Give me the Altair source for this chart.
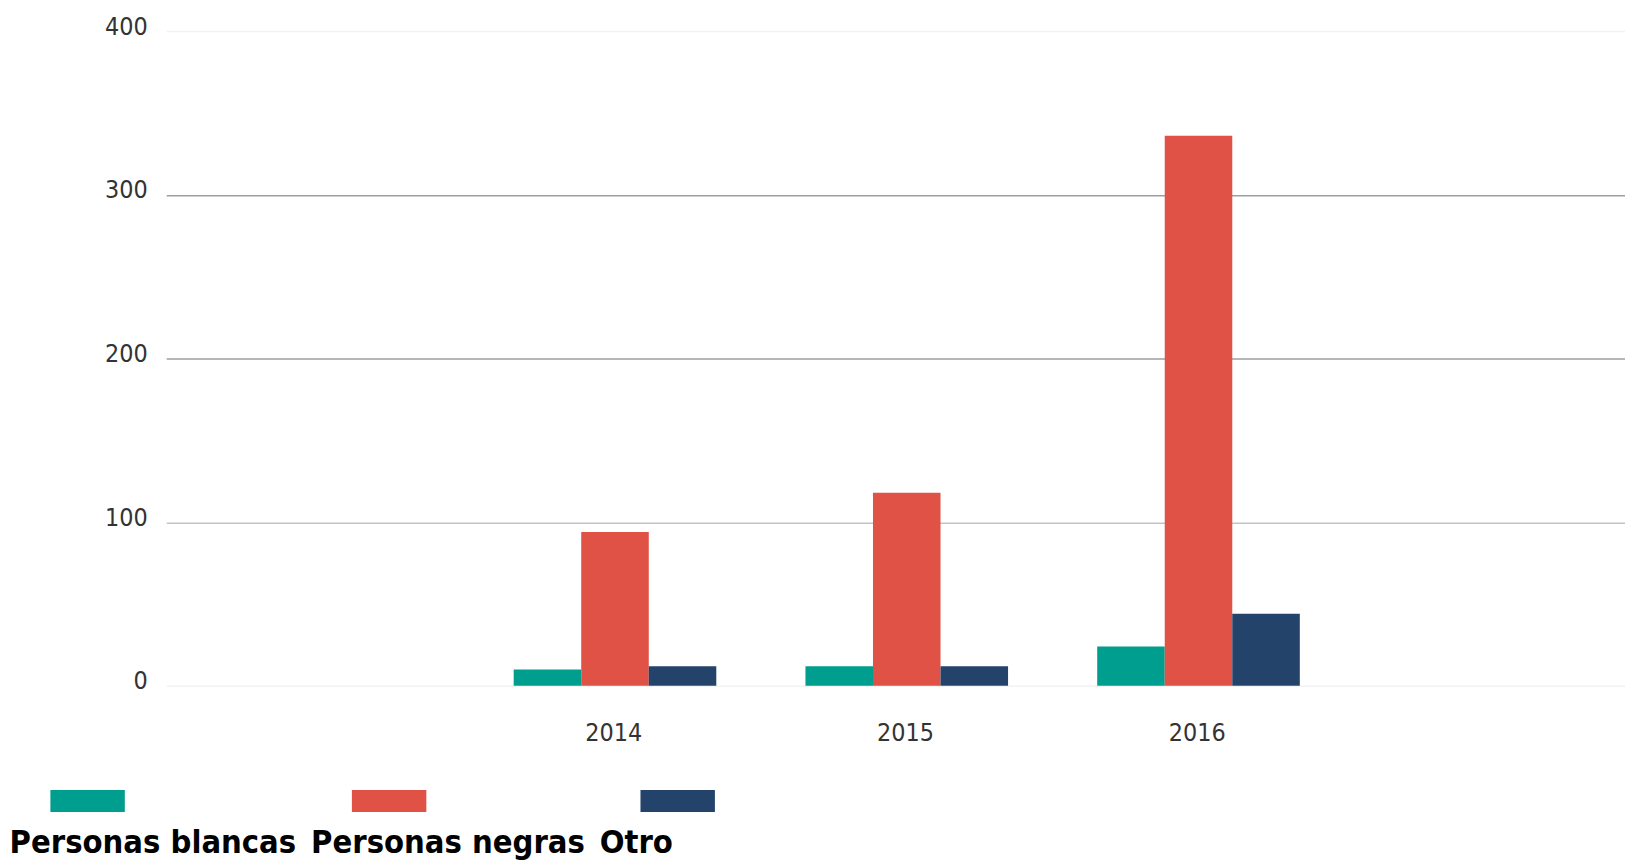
import altair as alt
import pandas as pd

years = ["2014", "2015", "2016"]
series = ["Personas blancas", "Personas negras", "Otro"]
blancas = [10, 12, 24]
negras = [94, 118, 336]
otro = [12, 12, 44]
colors = ["#009E8E", "#E05146", "#24436B"]
y_ticks = [0, 100, 200, 300, 400]

rows = []
for i, yr in enumerate(years):
    for s, vals in zip(series, [blancas, negras, otro]):
        rows.append({"year": yr, "serie": s, "value": vals[i]})
df = pd.DataFrame(rows)

FONT = "Liberation Sans Narrow, Arial Narrow, DejaVu Sans Condensed, sans-serif"

chart = alt.Chart(df).mark_bar().encode(
    x=alt.X("year:N", sort=years,
            scale=alt.Scale(paddingInner=0, paddingOuter=1),
            axis=alt.Axis(title=None, labelAngle=0, labelFontSize=25, labelFont=FONT,
                          labelColor="#333333", labelPadding=35, ticks=False, domain=False,
                          grid=False, labelOffset=10)),
    xOffset=alt.XOffset("serie:N", sort=series,
                        scale=alt.Scale(paddingInner=0, paddingOuter=0.66, align=0.625)),
    y=alt.Y("value:Q", scale=alt.Scale(domain=[0, 400], nice=False),
            axis=alt.Axis(values=y_ticks, title=None, labelFontSize=25, labelFont=FONT,
                          labelColor="#333333", labelPadding=19, ticks=False, domain=False,
                          minExtent=159, labelOffset={"expr": "-5"}, gridWidth=1.5,
                          gridColor={"condition": [
                              {"test": "datum.value === 200 || datum.value === 300", "value": "#9e9e9e"},
                              {"test": "datum.value === 100", "value": "#c4c4c4"}],
                              "value": "#f2f2f2"})),
    color=alt.Color("serie:N", sort=series,
                    scale=alt.Scale(domain=series, range=colors),
                    legend=alt.Legend(title=None, orient="none", legendX=-158, legendY=759,
                                      direction="horizontal",
                                      symbolType="M-1.7,-0.836H1.7V0.164H-1.7Z", symbolSize=1936,
                                      symbolStrokeWidth=0, symbolOpacity=1, symbolOffset=57,
                                      labelFont=FONT, labelFontSize=32.6, labelFontWeight="bold",
                                      labelColor="#000000",
                                      labelExpr="['', '', datum.label]",
                                      labelBaseline="middle", labelAlign="left",
                                      labelOffset={"expr": "-100.4"}, labelLimit=0,
                                      columnPadding=14, padding=0)),
).properties(
    width=1466, height=658,
    padding={"top": 4, "left": 0, "right": 0, "bottom": 0},
).configure_view(stroke=None)

chart.save("out.html", embed_options={"renderer": "svg", "actions": False})
